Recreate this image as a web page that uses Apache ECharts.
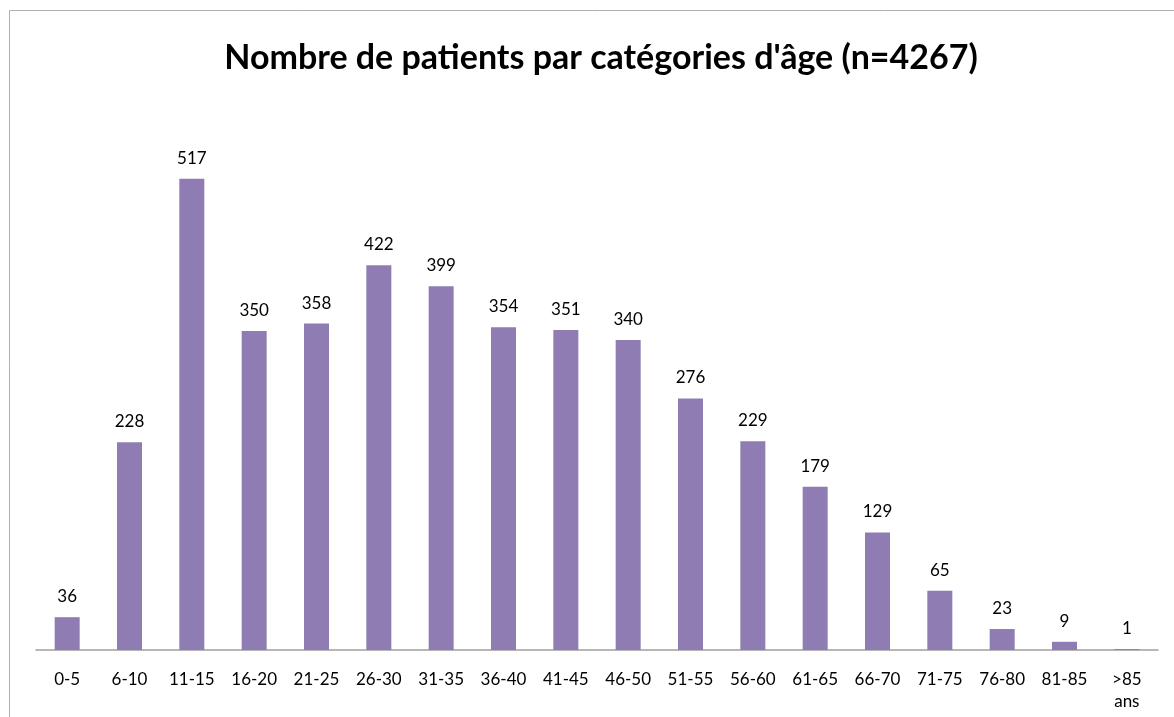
<!DOCTYPE html>
<html>
<head>
<meta charset="utf-8">
<script src="https://cdn.jsdelivr.net/npm/echarts@6/dist/echarts.min.js"></script>
<style>
  html, body { margin: 0; padding: 0; background: #fff; }
  #chart { width: 1174px; height: 717px; }
</style>
</head>
<body>
<div id="chart"></div>
<script>
var categories = ['0-5', '6-10', '11-15', '16-20', '21-25', '26-30', '31-35', '36-40', '41-45',
    '46-50', '51-55', '56-60', '61-65', '66-70', '71-75', '76-80', '81-85', '>85\nans'];
var patients = [36, 228, 517, 350, 358, 422, 399, 354, 351, 340, 276, 229, 179, 129, 65, 23, 9, 1];

var myChart = echarts.init(document.getElementById('chart'));

var option = {
    animation: false,
    textStyle: { fontFamily: 'Lato' },
    title: {
        text: "Nombre de patients par catégories d'âge (n=4267)",
        left: 596,
        textAlign: 'center',
        top: 36,
        textStyle: { fontFamily: 'Lato', fontWeight: 'bold', fontSize: 34, color: '#000' }
    },
    // cadre gris autour du graphique
    graphic: [{
        type: 'rect',
        shape: { x: 9.5, y: 10.5, width: 1200, height: 800 },
        style: { fill: 'none', stroke: '#b0b0b0', lineWidth: 1 },
        silent: true
    }],
    grid: { left: 36, right: 16, top: 103, bottom: 67 },
    xAxis: {
        type: 'category',
        data: categories,
        axisLine: { lineStyle: { color: '#a0a0a0', width: 1.5 } },
        axisTick: { show: false },
        axisLabel: { color: '#000', fontSize: 17, margin: 19, lineHeight: 22, interval: 0 }
    },
    yAxis: {
        type: 'value',
        min: 0,
        max: 600,
        show: false,
        splitLine: { show: false }
    },
    series: [{
        type: 'bar',
        data: patients,
        barWidth: 25,
        itemStyle: { color: '#8e7cb3' },
        label: { show: true, position: 'top', distance: 12, color: '#000', fontSize: 17 }
    }]
};

myChart.setOption(option);
</script>
</body>
</html>
